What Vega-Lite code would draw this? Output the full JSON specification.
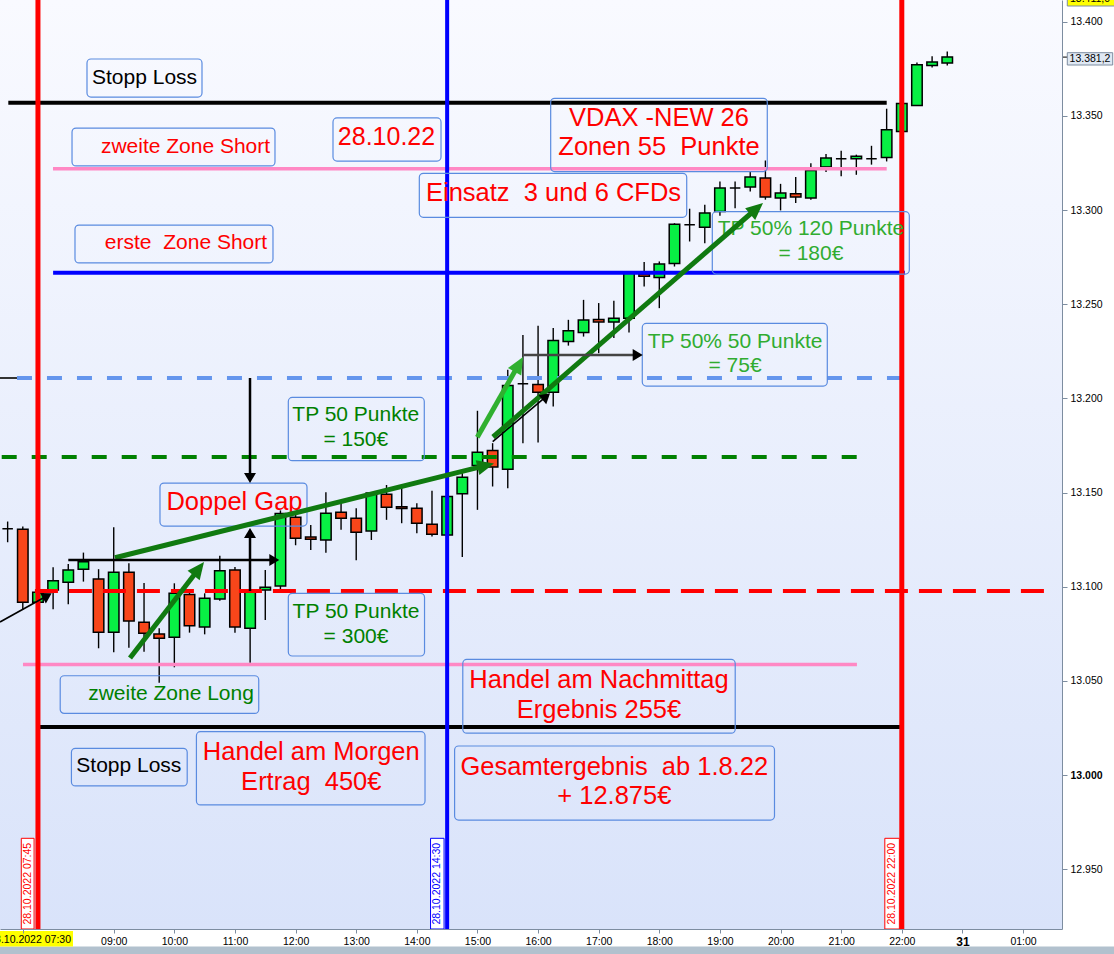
{
  "$schema": "https://vega.github.io/schema/vega-lite/v6.json",
  "width": 1062,
  "height": 929,
  "padding": {"left": 0, "top": 0, "right": 52, "bottom": 25},
  "autosize": {"type": "none"},
  "background": "#ffffff",
  "config": {"view": {"stroke": null}, "font": "Liberation Sans", "axis": {"grid": false, "title": null}},
  "datasets": {
    "candles": [
      {"t":7.25,"open":13130.7,"high":13134.6,"low":13123.6,"close":13130.7},
      {"t":7.5,"open":13130.5,"high":13131.9,"low":13087.7,"close":13091.8},
      {"t":7.75,"open":13091.8,"high":13099.0,"low":13089.0,"close":13097.1},
      {"t":8.0,"open":13098.3,"high":13110.3,"low":13088.0,"close":13103.1},
      {"t":8.25,"open":13102.4,"high":13112.1,"low":13090.7,"close":13108.9},
      {"t":8.5,"open":13109.3,"high":13118.1,"low":13102.7,"close":13113.2},
      {"t":8.75,"open":13104.1,"high":13109.3,"low":13067.3,"close":13075.8},
      {"t":9.0,"open":13075.8,"high":13131.6,"low":13065.2,"close":13107.7},
      {"t":9.25,"open":13107.7,"high":13112.5,"low":13067.6,"close":13081.8},
      {"t":9.5,"open":13081.1,"high":13102.0,"low":13065.5,"close":13075.3},
      {"t":9.75,"open":13074.9,"high":13077.9,"low":13049.0,"close":13072.6},
      {"t":10.0,"open":13073.2,"high":13101.8,"low":13057.2,"close":13096.5},
      {"t":10.25,"open":13095.9,"high":13098.3,"low":13075.6,"close":13079.2},
      {"t":10.5,"open":13078.6,"high":13096.5,"low":13074.7,"close":13093.9},
      {"t":10.75,"open":13093.5,"high":13116.4,"low":13092.6,"close":13108.4},
      {"t":11.0,"open":13108.9,"high":13110.5,"low":13075.6,"close":13078.6},
      {"t":11.25,"open":13077.9,"high":13097.4,"low":13059.6,"close":13097.4},
      {"t":11.5,"open":13098.3,"high":13108.9,"low":13082.3,"close":13099.7},
      {"t":11.75,"open":13100.4,"high":13140.5,"low":13098.0,"close":13138.8},
      {"t":12.0,"open":13136.9,"high":13139.0,"low":13122.0,"close":13125.7},
      {"t":12.25,"open":13126.4,"high":13132.8,"low":13119.5,"close":13125.2},
      {"t":12.5,"open":13124.8,"high":13150.2,"low":13118.0,"close":13139.0},
      {"t":12.75,"open":13139.5,"high":13145.2,"low":13130.2,"close":13136.4},
      {"t":13.0,"open":13136.4,"high":13141.7,"low":13114.0,"close":13128.9},
      {"t":13.25,"open":13129.6,"high":13150.2,"low":13124.8,"close":13149.7},
      {"t":13.5,"open":13149.1,"high":13154.0,"low":13135.5,"close":13142.2},
      {"t":13.75,"open":13142.5,"high":13154.4,"low":13133.7,"close":13141.5},
      {"t":14.0,"open":13141.7,"high":13144.3,"low":13128.4,"close":13133.7},
      {"t":14.25,"open":13133.2,"high":13150.9,"low":13126.6,"close":13127.9},
      {"t":14.5,"open":13127.5,"high":13148.5,"low":13117.0,"close":13147.9},
      {"t":14.75,"open":13149.3,"high":13161.1,"low":13115.8,"close":13158.1},
      {"t":15.0,"open":13164.3,"high":13193.4,"low":13140.8,"close":13171.4},
      {"t":15.25,"open":13172.3,"high":13176.2,"low":13153.2,"close":13163.5},
      {"t":15.5,"open":13162.4,"high":13215.2,"low":13152.3,"close":13206.8},
      {"t":15.75,"open":13207.8,"high":13233.7,"low":13176.2,"close":13207.8},
      {"t":16.0,"open":13207.3,"high":13238.5,"low":13176.5,"close":13203.3},
      {"t":16.25,"open":13203.3,"high":13237.3,"low":13195.7,"close":13230.7},
      {"t":16.5,"open":13230.2,"high":13241.7,"low":13228.0,"close":13235.9},
      {"t":16.75,"open":13235.0,"high":13252.3,"low":13232.8,"close":13241.6},
      {"t":17.0,"open":13241.9,"high":13250.6,"low":13224.0,"close":13240.6},
      {"t":17.25,"open":13240.5,"high":13251.8,"low":13232.0,"close":13242.5},
      {"t":17.5,"open":13242.6,"high":13267.0,"low":13235.0,"close":13266.5},
      {"t":17.75,"open":13266.0,"high":13272.4,"low":13259.4,"close":13264.9},
      {"t":18.0,"open":13264.2,"high":13272.7,"low":13247.9,"close":13271.3},
      {"t":18.25,"open":13271.6,"high":13293.0,"low":13270.0,"close":13292.5},
      {"t":18.5,"open":13292.2,"high":13300.7,"low":13283.3,"close":13292.2},
      {"t":18.75,"open":13290.9,"high":13302.8,"low":13282.4,"close":13298.4},
      {"t":19.0,"open":13299.2,"high":13315.2,"low":13297.0,"close":13311.7},
      {"t":19.25,"open":13311.7,"high":13315.2,"low":13301.0,"close":13311.7},
      {"t":19.5,"open":13312.2,"high":13320.5,"low":13309.9,"close":13317.5},
      {"t":19.75,"open":13317.0,"high":13326.3,"low":13305.5,"close":13306.9},
      {"t":20.0,"open":13306.4,"high":13313.9,"low":13299.8,"close":13309.0},
      {"t":20.25,"open":13308.6,"high":13317.5,"low":13303.7,"close":13306.9},
      {"t":20.5,"open":13306.4,"high":13324.9,"low":13305.4,"close":13321.0},
      {"t":20.75,"open":13322.8,"high":13329.7,"low":13320.2,"close":13327.6},
      {"t":21.0,"open":13327.2,"high":13331.5,"low":13317.9,"close":13327.2},
      {"t":21.25,"open":13327.2,"high":13329.4,"low":13318.7,"close":13328.5},
      {"t":21.5,"open":13327.2,"high":13334.1,"low":13324.1,"close":13327.2},
      {"t":21.75,"open":13327.9,"high":13353.8,"low":13325.8,"close":13342.6},
      {"t":22.0,"open":13341.7,"high":13357.0,"low":13340.0,"close":13356.5},
      {"t":22.25,"open":13355.5,"high":13378.4,"low":13355.5,"close":13377.2},
      {"t":22.5,"open":13376.8,"high":13381.6,"low":13375.7,"close":13378.6},
      {"t":22.75,"open":13378.1,"high":13384.2,"low":13376.8,"close":13381.3}
    ],
    "boxes": [
      {"name":"Stopp Loss oben","x1":8.559,"x2":10.456,"y1":13380.2,"y2":13360.0},
      {"name":"zweite Zone Short","x1":8.312,"x2":11.660,"y1":13343.5,"y2":13323.4},
      {"name":"Datum","x1":12.617,"x2":14.399,"y1":13348.9,"y2":13326.0},
      {"name":"erste Zone Short","x1":8.361,"x2":11.627,"y1":13292.0,"y2":13271.9},
      {"name":"VDAX","x1":16.208,"x2":19.781,"y1":13359.3,"y2":13320.4},
      {"name":"Einsatz","x1":14.041,"x2":18.452,"y1":13319.5,"y2":13296.1},
      {"name":"TP 120","x1":18.874,"x2":22.124,"y1":13299.1,"y2":13266.0},
      {"name":"TP 50%","x1":17.719,"x2":20.771,"y1":13239.8,"y2":13206.5},
      {"name":"TP 150","x1":11.880,"x2":14.123,"y1":13200.5,"y2":13166.9},
      {"name":"Doppel Gap","x1":9.763,"x2":12.188,"y1":13155.0,"y2":13132.2},
      {"name":"TP 300","x1":11.880,"x2":14.127,"y1":13096.5,"y2":13063.2},
      {"name":"zweite Zone Long","x1":8.117,"x2":11.392,"y1":13052.7,"y2":13032.7},
      {"name":"Stopp Loss unten","x1":8.302,"x2":10.212,"y1":13014.2,"y2":12994.2},
      {"name":"Morgen","x1":10.364,"x2":14.135,"y1":13023.0,"y2":12984.1},
      {"name":"Nachmittag","x1":14.758,"x2":19.252,"y1":13061.4,"y2":13022.2},
      {"name":"Gesamt","x1":14.623,"x2":19.900,"y1":13015.4,"y2":12976.1}
    ]
  },
  "layer": [
    {
      "data": {"values": [{"x1": 7.1239, "x2": 24.6427, "y1": 12918.24, "y2": 13411.52}]},
      "mark": {"type": "rect", "color": {"gradient": "linear", "x1": 0, "y1": 0, "x2": 0, "y2": 1, "stops": [{"offset": 0, "color": "#f9faff"}, {"offset": 1, "color": "#d9e3fa"}]}},
      "encoding": {
        "x": {"field": "x1", "type": "quantitative", "title": null,
          "scale": {"domain": [7.1239, 24.6427], "nice": false, "zero": false, "padding": 0},
          "axis": {"orient": "bottom", "title": null, "grid": false, "zindex": 1,
            "values": [7.5, 9, 10, 11, 12, 13, 14, 15, 16, 17, 18, 19, 20, 21, 22, 23, 24],
            "labelExpr": "datum.value == 7.5 ? '' : datum.value == 23 ? '31' : datum.value == 24 ? '01:00' : (datum.value < 10 ? '0' : '') + datum.value + ':00'",
            "labelFont": "Liberation Sans", "labelColor": "#000000",
            "labelFontSize": {"condition": {"test": "datum.value == 23", "value": 12}, "value": 10.5},
            "labelFontWeight": {"condition": {"test": "datum.value == 23", "value": "bold"}, "value": "normal"},
            "labelPadding": 3, "tickSize": 4, "labelFlush": false, "labelOverlap": false,
            "domainColor": "#7d8da0", "tickColor": "#7d8da0"}},
        "x2": {"field": "x2"},
        "y": {"field": "y1", "type": "quantitative", "title": null,
          "scale": {"domain": [12918.24, 13411.52], "nice": false, "zero": false, "padding": 0},
          "axis": {"orient": "right", "title": null, "grid": false, "zindex": 1,
            "values": [12950, 13000, 13050, 13100, 13150, 13200, 13250, 13300, 13350, 13400],
            "labelExpr": "replace(format(datum.value, ','), ',', '.')",
            "labelFont": "Liberation Sans", "labelColor": "#000000", "labelFontSize": 10.5,
            "labelFontWeight": {"condition": {"test": "datum.value == 13000", "value": "bold"}, "value": "normal"},
            "labelPadding": 3, "tickSize": 5, "labelFlush": false, "labelOverlap": false,
            "domainColor": "#7d8da0", "tickColor": "#7d8da0"}},
        "y2": {"field": "y2"}
      }
    },
    {
      "data": {"values": [{"x1": 6.9, "x2": 25.6, "y1": 12908.9, "y2": 12900.0}]},
      "mark": {"type": "rect", "color": "#b2c1ce"},
      "encoding": {
        "x": {"field": "x1", "type": "quantitative", "title": null}, "x2": {"field": "x2"},
        "y": {"field": "y1", "type": "quantitative", "title": null}, "y2": {"field": "y2"}
      }
    },
    {
      "data": {"name": "candles"},
      "mark": {"type": "rule", "color": "#000000", "strokeWidth": 1.4},
      "encoding": {
        "x": {"field": "t", "type": "quantitative", "title": null},
        "y": {"field": "low", "type": "quantitative", "title": null},
        "y2": {"field": "high"}
      }
    },
    {
      "data": {"name": "candles"},
      "mark": {"type": "bar", "size": 10.5, "stroke": "#000000", "strokeWidth": 1.5},
      "encoding": {
        "x": {"field": "t", "type": "quantitative", "title": null},
        "y": {"field": "open", "type": "quantitative", "title": null},
        "y2": {"field": "close"},
        "color": {"condition": [
          {"test": "datum.close > datum.open", "value": "#08f044"},
          {"test": "datum.close < datum.open", "value": "#f8461a"}],
          "value": "#000000"}
      }
    },
    {
      "data": {"values": [{"x1": 7.261, "x2": 21.751, "y": 13357.0}, {"x1": 7.751, "x2": 22.02, "y": 13025.5}]},
      "mark": {"type": "rule", "color": "#000000", "strokeWidth": 4},
      "encoding": {
        "x": {"field": "x1", "type": "quantitative", "title": null}, "x2": {"field": "x2"},
        "y": {"field": "y", "type": "quantitative", "title": null}
      }
    },
    {
      "data": {"values": [{"x1": 7.998, "x2": 21.751, "y": 13321.9}, {"x1": 7.503, "x2": 21.26, "y": 13058.7}]},
      "mark": {"type": "rule", "color": "#ff88c4", "strokeWidth": 3.5},
      "encoding": {
        "x": {"field": "x1", "type": "quantitative", "title": null}, "x2": {"field": "x2"},
        "y": {"field": "y", "type": "quantitative", "title": null}
      }
    },
    {
      "data": {"values": [{"x1": 8.0, "x2": 22.05, "y": 13266.7}]},
      "mark": {"type": "rule", "color": "#0000ff", "strokeWidth": 4},
      "encoding": {
        "x": {"field": "x1", "type": "quantitative", "title": null}, "x2": {"field": "x2"},
        "y": {"field": "y", "type": "quantitative", "title": null}
      }
    },
    {
      "data": {"values": [{"x1": 7.404, "x2": 22.05, "y": 13210.8}]},
      "mark": {"type": "rule", "color": "#6495ed", "strokeWidth": 4, "strokeDash": [15, 15]},
      "encoding": {
        "x": {"field": "x1", "type": "quantitative", "title": null}, "x2": {"field": "x2"},
        "y": {"field": "y", "type": "quantitative", "title": null}
      }
    },
    {
      "data": {"values": [{"x1": 7.1239, "x2": 7.404, "y": 13210.8}]},
      "mark": {"type": "rule", "color": "#333333", "strokeWidth": 2},
      "encoding": {
        "x": {"field": "x1", "type": "quantitative", "title": null}, "x2": {"field": "x2"},
        "y": {"field": "y", "type": "quantitative", "title": null}
      }
    },
    {
      "data": {"values": [{"x1": 7.152, "x2": 21.26, "y": 13168.9}]},
      "mark": {"type": "rule", "color": "#008000", "strokeWidth": 4, "strokeDash": [15, 15]},
      "encoding": {
        "x": {"field": "x1", "type": "quantitative", "title": null}, "x2": {"field": "x2"},
        "y": {"field": "y", "type": "quantitative", "title": null}
      }
    },
    {
      "data": {"values": [{"x1": 7.70, "x2": 24.45, "y": 13097.7}]},
      "mark": {"type": "rule", "color": "#ff0000", "strokeWidth": 4, "strokeDash": [23, 11]},
      "encoding": {
        "x": {"field": "x1", "type": "quantitative", "title": null}, "x2": {"field": "x2"},
        "y": {"field": "y", "type": "quantitative", "title": null}
      }
    },
    {
      "data": {"values": [{"t": 7.75}, {"t": 22.0}]},
      "mark": {"type": "rule", "color": "#ff0000", "strokeWidth": 5},
      "encoding": {"x": {"field": "t", "type": "quantitative", "title": null}}
    },
    {
      "data": {"values": [{"t": 14.5}]},
      "mark": {"type": "rule", "color": "#0000ff", "strokeWidth": 4},
      "encoding": {"x": {"field": "t", "type": "quantitative", "title": null}}
    },
    {
      "data": {"values": [{"x1": 7.475, "x2": 7.686}, {"x1": 21.72, "x2": 21.96}]},
      "mark": {"type": "rect", "fill": "#ffffff", "stroke": "#ff0000", "strokeWidth": 1},
      "encoding": {
        "x": {"field": "x1", "type": "quantitative", "title": null}, "x2": {"field": "x2"},
        "y": {"datum": 12966.4, "type": "quantitative", "title": null}, "y2": {"datum": 12918.24}
      }
    },
    {
      "data": {"values": [{"x1": 14.226, "x2": 14.449}]},
      "mark": {"type": "rect", "fill": "#ffffff", "stroke": "#0000ff", "strokeWidth": 1},
      "encoding": {
        "x": {"field": "x1", "type": "quantitative", "title": null}, "x2": {"field": "x2"},
        "y": {"datum": 12966.4, "type": "quantitative", "title": null}, "y2": {"datum": 12918.24}
      }
    },
    {
      "data": {"values": [{"t": 7.581, "label": "28.10.2022 07:45"}, {"t": 21.84, "label": "28.10.2022 22:00"}]},
      "mark": {"type": "text", "angle": 270, "align": "center", "baseline": "middle", "font": "Liberation Sans", "fontSize": 10.5, "color": "#ff0000"},
      "encoding": {
        "x": {"field": "t", "type": "quantitative", "title": null},
        "y": {"datum": 12942.3, "type": "quantitative", "title": null},
        "text": {"field": "label"}
      }
    },
    {
      "data": {"values": [{"t": 14.336, "label": "28.10.2022 14:30"}]},
      "mark": {"type": "text", "angle": 270, "align": "center", "baseline": "middle", "font": "Liberation Sans", "fontSize": 10.5, "color": "#0000ff"},
      "encoding": {
        "x": {"field": "t", "type": "quantitative", "title": null},
        "y": {"datum": 12942.3, "type": "quantitative", "title": null},
        "text": {"field": "label"}
      }
    },
    {
      "data": {"name": "boxes"},
      "mark": {"type": "rect", "filled": false, "color": "#5a8be0", "strokeWidth": 1.2, "cornerRadius": 4},
      "encoding": {
        "x": {"field": "x1", "type": "quantitative", "title": null}, "x2": {"field": "x2"},
        "y": {"field": "y1", "type": "quantitative", "title": null}, "y2": {"field": "y2"}
      }
    },
    {
      "data": {"values": [
        {"t": 9.508, "p": 13370.1, "label": "Stopp Loss"},
        {"t": 9.249, "p": 13004.8, "label": "Stopp Loss"}]},
      "mark": {"type": "text", "align": "center", "baseline": "middle", "font": "Liberation Sans", "fontSize": 21, "color": "#000000"},
      "encoding": {
        "x": {"field": "t", "type": "quantitative", "title": null},
        "y": {"field": "p", "type": "quantitative", "title": null},
        "text": {"field": "label"}
      }
    },
    {
      "data": {"values": [
        {"t": 10.184, "p": 13333.4, "label": "zweite Zone Short"},
        {"t": 10.192, "p": 13282.6, "label": "erste \u00a0Zone Short"}]},
      "mark": {"type": "text", "align": "center", "baseline": "middle", "font": "Liberation Sans", "fontSize": 21, "color": "#ff0000"},
      "encoding": {
        "x": {"field": "t", "type": "quantitative", "title": null},
        "y": {"field": "p", "type": "quantitative", "title": null},
        "text": {"field": "label"}
      }
    },
    {
      "data": {"values": [{"t": 13.5, "p": 13338.9, "label": "28.10.22"}]},
      "mark": {"type": "text", "align": "center", "baseline": "middle", "font": "Liberation Sans", "fontSize": 25, "color": "#ff0000"},
      "encoding": {
        "x": {"field": "t", "type": "quantitative", "title": null},
        "y": {"field": "p", "type": "quantitative", "title": null},
        "text": {"field": "label"}
      }
    },
    {
      "data": {"values": [
        {"t": 17.995, "p": 13349.0, "label": "VDAX -NEW 26\nZonen 55 \u00a0Punkte"},
        {"t": 16.255, "p": 13309.2, "label": "Einsatz \u00a03 und 6 CFDs"},
        {"t": 10.992, "p": 13145.1, "label": "Doppel Gap"},
        {"t": 12.259, "p": 13012.1, "label": "Handel am Morgen\nErtrag \u00a0450€"},
        {"t": 17.005, "p": 13050.4, "label": "Handel am Nachmittag\nErgebnis 255€"},
        {"t": 17.258, "p": 13004.4, "label": "Gesamtergebnis \u00a0ab 1.8.22\n+ 12.875€"}]},
      "mark": {"type": "text", "align": "center", "baseline": "middle", "font": "Liberation Sans", "fontSize": 25.5, "lineHeight": 29.5, "lineBreak": "\n", "color": "#ff0000"},
      "encoding": {
        "x": {"field": "t", "type": "quantitative", "title": null},
        "y": {"field": "p", "type": "quantitative", "title": null},
        "text": {"field": "label"}
      }
    },
    {
      "data": {"values": [
        {"t": 12.993, "p": 13191.2, "label": "TP 50 Punkte\n= 150€"},
        {"t": 12.997, "p": 13086.4, "label": "TP 50 Punkte\n= 300€"},
        {"t": 9.945, "p": 13042.9, "label": "zweite Zone Long"}]},
      "mark": {"type": "text", "align": "center", "baseline": "middle", "font": "Liberation Sans", "fontSize": 21, "lineHeight": 25, "lineBreak": "\n", "color": "#008000"},
      "encoding": {
        "x": {"field": "t", "type": "quantitative", "title": null},
        "y": {"field": "p", "type": "quantitative", "title": null},
        "text": {"field": "label"}
      }
    },
    {
      "data": {"values": [
        {"t": 20.502, "p": 13289.8, "label": "TP 50% 120 Punkte\n= 180€"},
        {"t": 19.249, "p": 13230.1, "label": "TP 50% 50 Punkte\n= 75€"}]},
      "mark": {"type": "text", "align": "center", "baseline": "middle", "font": "Liberation Sans", "fontSize": 21, "lineHeight": 24.5, "lineBreak": "\n", "color": "#30ac30"},
      "encoding": {
        "x": {"field": "t", "type": "quantitative", "title": null},
        "y": {"field": "p", "type": "quantitative", "title": null},
        "text": {"field": "label"}
      }
    },
    {
      "data": {"values": [
        {"x1": 9.2684, "y1": 13062.13, "x2": 10.3885, "y2": 13108.91},
        {"x1": 9.0209, "y1": 13115.38, "x2": 15.1131, "y2": 13164.13},
        {"x1": 15.2566, "y1": 13179.48, "x2": 19.5852, "y2": 13300.28}]},
      "mark": {"type": "rule", "color": "#107a10", "strokeWidth": 5},
      "encoding": {
        "x": {"field": "x1", "type": "quantitative", "title": null}, "x2": {"field": "x2"},
        "y": {"field": "y1", "type": "quantitative", "title": null}, "y2": {"field": "y2"}
      }
    },
    {
      "data": {"values": [
        {"x1": 14.9976, "y1": 13179.32, "x2": 15.6690, "y2": 13217.34}]},
      "mark": {"type": "rule", "color": "#30b030", "strokeWidth": 5},
      "encoding": {
        "x": {"field": "x1", "type": "quantitative", "title": null}, "x2": {"field": "x2"},
        "y": {"field": "y1", "type": "quantitative", "title": null}, "y2": {"field": "y2"}
      }
    },
    {
      "data": {"values": [
        {"x1": 8.2506, "y1": 13114.17, "x2": 11.5943, "y2": 13114.17},
        {"x1": 11.2480, "y1": 13097.71, "x2": 11.2480, "y2": 13126.91},
        {"x1": 11.2480, "y1": 13210.81, "x2": 11.2480, "y2": 13159.30}]},
      "mark": {"type": "rule", "color": "#000000", "strokeWidth": 2.5},
      "encoding": {
        "x": {"field": "x1", "type": "quantitative", "title": null}, "x2": {"field": "x2"},
        "y": {"field": "y1", "type": "quantitative", "title": null}, "y2": {"field": "y2"}
      }
    },
    {
      "data": {"values": [
        {"x1": 15.7564, "y1": 13223.02, "x2": 17.5990, "y2": 13223.02}]},
      "mark": {"type": "rule", "color": "#444444", "strokeWidth": 2.5},
      "encoding": {
        "x": {"field": "x1", "type": "quantitative", "title": null}, "x2": {"field": "x2"},
        "y": {"field": "y1", "type": "quantitative", "title": null}, "y2": {"field": "y2"}
      }
    },
    {
      "data": {"values": [
        {"x1": 7.1239, "y1": 13081.24, "x2": 7.8662, "y2": 13094.52},
        {"x1": 15.2517, "y1": 13176.98, "x2": 16.0814, "y2": 13199.65}]},
      "mark": {"type": "rule", "color": "#000000", "strokeWidth": 1.6},
      "encoding": {
        "x": {"field": "x1", "type": "quantitative", "title": null}, "x2": {"field": "x2"},
        "y": {"field": "y1", "type": "quantitative", "title": null}, "y2": {"field": "y2"}
      }
    },
    {
      "data": {"values": [
        {"t": 10.4892, "p": 13113.10, "heading": 37.6},
        {"t": 15.2731, "p": 13165.40, "heading": 76.0},
        {"t": 19.7106, "p": 13303.73, "heading": 49.1}]},
      "mark": {"type": "point", "shape": "M0,0L0.45,1L-0.45,1Z", "filled": true, "opacity": 1, "color": "#107a10", "size": 1156},
      "encoding": {
        "x": {"field": "t", "type": "quantitative", "title": null},
        "y": {"field": "p", "type": "quantitative", "title": null},
        "angle": {"field": "heading", "type": "quantitative", "scale": {"domain": [0, 360], "range": [0, 360]}, "legend": null}
      }
    },
    {
      "data": {"values": [
        {"t": 15.7515, "p": 13221.96, "heading": 29.6}]},
      "mark": {"type": "point", "shape": "M0,0L0.45,1L-0.45,1Z", "filled": true, "opacity": 1, "color": "#30b030", "size": 1156},
      "encoding": {
        "x": {"field": "t", "type": "quantitative", "title": null},
        "y": {"field": "p", "type": "quantitative", "title": null},
        "angle": {"field": "heading", "type": "quantitative", "scale": {"domain": [0, 360], "range": [0, 360]}, "legend": null}
      }
    },
    {
      "data": {"values": [
        {"t": 11.7313, "p": 13114.17, "heading": 90},
        {"t": 17.7260, "p": 13223.02, "heading": 90},
        {"t": 11.2480, "p": 13131.16, "heading": 0},
        {"t": 11.2480, "p": 13155.05, "heading": 180},
        {"t": 7.9767, "p": 13096.48, "heading": 60.9},
        {"t": 16.1969, "p": 13202.68, "heading": 49.8}]},
      "mark": {"type": "point", "shape": "M0,0L0.6,1L-0.6,1Z", "filled": true, "opacity": 1, "color": "#000000", "size": 400},
      "encoding": {
        "x": {"field": "t", "type": "quantitative", "title": null},
        "y": {"field": "p", "type": "quantitative", "title": null},
        "angle": {"field": "heading", "type": "quantitative", "scale": {"domain": [0, 360], "range": [0, 360]}, "legend": null}
      }
    },
    {
      "data": {"values": [{"x1": 24.6427, "x2": 24.730, "y": 13381.2}]},
      "mark": {"type": "rule", "color": "#000000", "strokeWidth": 1},
      "encoding": {
        "x": {"field": "x1", "type": "quantitative", "title": null}, "x2": {"field": "x2"},
        "y": {"field": "y", "type": "quantitative", "title": null}
      }
    },
    {
      "data": {"values": [{"x1": 24.730, "x2": 25.479, "y1": 13383.54, "y2": 13377.0}]},
      "mark": {"type": "rect", "fill": "#dfe8f3", "stroke": "#7d8da0", "strokeWidth": 1},
      "encoding": {
        "x": {"field": "x1", "type": "quantitative", "title": null}, "x2": {"field": "x2"},
        "y": {"field": "y1", "type": "quantitative", "title": null}, "y2": {"field": "y2"}
      }
    },
    {
      "data": {"values": [{"x1": 24.730, "x2": 25.55, "y1": 13415.24, "y2": 13408.33}]},
      "mark": {"type": "rect", "fill": "#ffff00", "stroke": "#7d8da0", "strokeWidth": 1},
      "encoding": {
        "x": {"field": "x1", "type": "quantitative", "title": null}, "x2": {"field": "x2"},
        "y": {"field": "y1", "type": "quantitative", "title": null}, "y2": {"field": "y2"}
      }
    },
    {
      "data": {"values": [{"x1": 6.711, "x2": 8.328, "y1": 12917.17, "y2": 12908.9}]},
      "mark": {"type": "rect", "fill": "#ffff00"},
      "encoding": {
        "x": {"field": "x1", "type": "quantitative", "title": null}, "x2": {"field": "x2"},
        "y": {"field": "y1", "type": "quantitative", "title": null}, "y2": {"field": "y2"}
      }
    },
    {
      "data": {"values": [
        {"t": 25.105, "p": 13380.35, "label": "13.381,2"},
        {"t": 25.105, "p": 13411.8, "label": "13.411,0"}]},
      "mark": {"type": "text", "align": "center", "baseline": "middle", "font": "Liberation Sans", "fontSize": 10.5, "color": "#000000"},
      "encoding": {
        "x": {"field": "t", "type": "quantitative", "title": null},
        "y": {"field": "p", "type": "quantitative", "title": null},
        "text": {"field": "label"}
      }
    },
    {
      "data": {"values": [{"t": 8.295, "p": 12912.4, "label": "28.10.2022 07:30"}]},
      "mark": {"type": "text", "align": "right", "baseline": "middle", "font": "Liberation Sans", "fontSize": 10.5, "color": "#000000"},
      "encoding": {
        "x": {"field": "t", "type": "quantitative", "title": null},
        "y": {"field": "p", "type": "quantitative", "title": null},
        "text": {"field": "label"}
      }
    }
  ]
}
